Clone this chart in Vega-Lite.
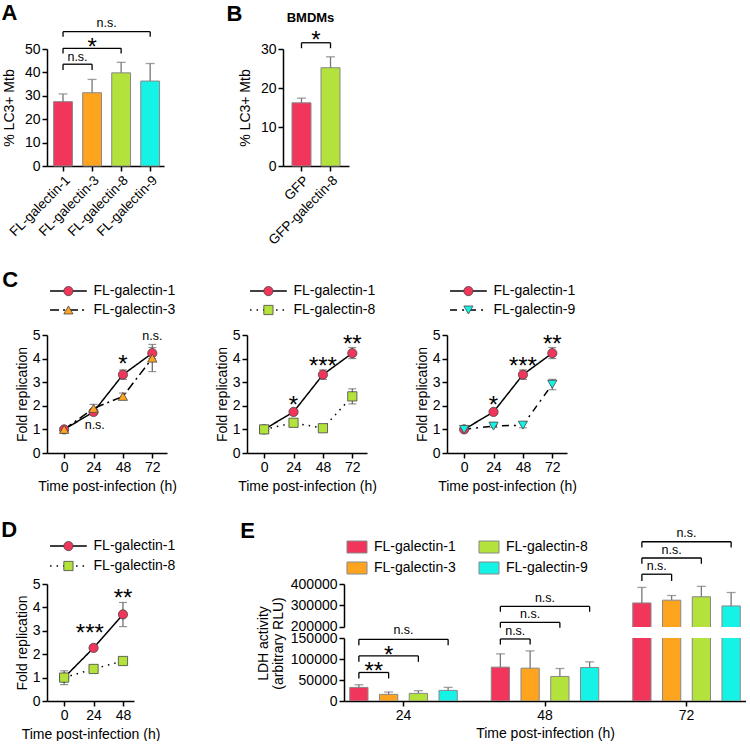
{
"$schema":"https://vega.github.io/schema/vega-lite/v6.json",
"padding":{"left":1,"top":2,"right":0,"bottom":0},
"config":{
"font":"Liberation Sans",
"view":{"stroke":null},
"axis":{"grid":false,"labelOverlap":false,"labelFlush":false,"domainColor":"#000","domainWidth":1.5,"tickColor":"#000","tickWidth":1.5,"tickSize":5,"labelFontSize":14,"labelColor":"#000","labelPadding":2,"titleFontSize":14,"titleFontWeight":"normal","titleColor":"#000","titlePadding":5,"labelFont":"Liberation Sans","titleFont":"Liberation Sans"},
"title":{"anchor":"start","frame":"bounds","fontSize":22,"fontWeight":"bold","offset":2,"color":"#000","font":"Liberation Sans"},
"text":{"font":"Liberation Sans","color":"#000"}
},
"datasets":{
"A":[{"g":"FL-galectin-1","v":27.5,"hi":30.8},{"g":"FL-galectin-3","v":31.3,"hi":37.0},{"g":"FL-galectin-8","v":39.8,"hi":44.3},{"g":"FL-galectin-9","v":36.3,"hi":43.8}],
"Abr":[{"id":"a","g":"FL-galectin-1","top":43.5,"bot":41.0},{"id":"a","g":"FL-galectin-3","top":43.5,"bot":41.0},{"id":"b","g":"FL-galectin-1","top":50.3,"bot":48.1},{"id":"b","g":"FL-galectin-8","top":50.3,"bot":48.1},{"id":"c","g":"FL-galectin-1","top":57.4,"bot":55.2},{"id":"c","g":"FL-galectin-9","top":57.4,"bot":55.2}],
"Atx":[{"label":"n.s.","g":"FL-galectin-1","pos":"mid","y":46.4},{"label":"*","g":"FL-galectin-3","pos":"bar","y":53.6},{"label":"n.s.","g":"FL-galectin-3","pos":"mid","y":61.0}],
"B":[{"g":"GFP","v":16.2,"hi":17.4},{"g":"GFP-galectin-8","v":25.2,"hi":28.0}],
"Bbr":[{"id":"a","g":"GFP","top":31.6,"bot":30.2},{"id":"a","g":"GFP-galectin-8","top":31.6,"bot":30.2}],
"Btx":[{"label":"*","g":"GFP","y":33.8}],
"Blab":[{"label":"BMDMs"}],
"S":[{"series":"FL-galectin-1"},{"series":"FL-galectin-3"},{"series":"FL-galectin-8"},{"series":"FL-galectin-9"}],
"C":[
{"series":"FL-galectin-1","t":0,"v":1.0,"lo":0.95,"hi":1.05},
{"series":"FL-galectin-1","t":24,"v":1.74,"lo":1.66,"hi":1.82},
{"series":"FL-galectin-1","t":48,"v":3.32,"lo":3.12,"hi":3.52},
{"series":"FL-galectin-1","t":72,"v":4.23,"lo":4.0,"hi":4.47},
{"series":"FL-galectin-3","t":0,"v":1.0,"lo":0.95,"hi":1.05},
{"series":"FL-galectin-3","t":24,"v":1.89,"lo":1.72,"hi":2.06},
{"series":"FL-galectin-3","t":48,"v":2.4,"lo":2.27,"hi":2.54},
{"series":"FL-galectin-3","t":72,"v":4.02,"lo":3.45,"hi":4.6},
{"series":"FL-galectin-8","t":0,"v":1.0,"lo":0.96,"hi":1.04},
{"series":"FL-galectin-8","t":24,"v":1.28,"lo":1.22,"hi":1.34},
{"series":"FL-galectin-8","t":48,"v":1.05,"lo":1.0,"hi":1.1},
{"series":"FL-galectin-8","t":72,"v":2.4,"lo":2.08,"hi":2.72},
{"series":"FL-galectin-9","t":0,"v":1.0,"lo":0.95,"hi":1.05},
{"series":"FL-galectin-9","t":24,"v":1.14,"lo":1.08,"hi":1.2},
{"series":"FL-galectin-9","t":48,"v":1.18,"lo":1.07,"hi":1.29},
{"series":"FL-galectin-9","t":72,"v":2.91,"lo":2.68,"hi":3.12}],
"Ctx":[
{"p":"C1","t":48,"y":4.02,"label":"*"},{"p":"C1","t":72,"y":4.97,"label":"n.s."},{"p":"C1","t":25,"y":1.18,"label":"n.s."},
{"p":"C2","t":24,"y":2.3,"label":"*"},{"p":"C2","t":48,"y":3.96,"label":"***"},{"p":"C2","t":72,"y":4.89,"label":"**"},
{"p":"C3","t":24,"y":2.3,"label":"*"},{"p":"C3","t":48,"y":3.96,"label":"***"},{"p":"C3","t":72,"y":4.89,"label":"**"},
{"p":"D","t":21,"y":3.16,"label":"***"},{"p":"D","t":48,"y":4.64,"label":"**"}],
"D":[
{"series":"FL-galectin-1","t":0,"v":1.0,"lo":0.7,"hi":1.29},
{"series":"FL-galectin-1","t":24,"v":2.27,"lo":2.22,"hi":2.32},
{"series":"FL-galectin-1","t":48,"v":3.7,"lo":3.18,"hi":4.21},
{"series":"FL-galectin-8","t":0,"v":1.0,"lo":0.95,"hi":1.05},
{"series":"FL-galectin-8","t":24,"v":1.37,"lo":1.32,"hi":1.42},
{"series":"FL-galectin-8","t":48,"v":1.71,"lo":1.66,"hi":1.76}],
"ldh":[
{"t":"24","series":"FL-galectin-1","v":32400,"hi":38700},
{"t":"24","series":"FL-galectin-3","v":15800,"hi":21300},
{"t":"24","series":"FL-galectin-8","v":18200,"hi":24500},
{"t":"24","series":"FL-galectin-9","v":25300,"hi":32400},
{"t":"48","series":"FL-galectin-1","v":80600,"hi":112200},
{"t":"48","series":"FL-galectin-3","v":78200,"hi":119300},
{"t":"48","series":"FL-galectin-8","v":58500,"hi":77400},
{"t":"48","series":"FL-galectin-9","v":79800,"hi":93200},
{"t":"72","series":"FL-galectin-1","v":311000,"hi":384000},
{"t":"72","series":"FL-galectin-3","v":324000,"hi":346000},
{"t":"72","series":"FL-galectin-8","v":340000,"hi":389000},
{"t":"72","series":"FL-galectin-9","v":297000,"hi":360000}],
"Ebl":[
{"id":"a","t":"24","series":"FL-galectin-1","top":67900,"bot":53700},
{"id":"a","t":"24","series":"FL-galectin-3","top":67900,"bot":53700},
{"id":"b","t":"24","series":"FL-galectin-1","top":107400,"bot":93200},
{"id":"b","t":"24","series":"FL-galectin-8","top":107400,"bot":93200},
{"id":"c","t":"24","series":"FL-galectin-1","top":146900,"bot":132700},
{"id":"c","t":"24","series":"FL-galectin-9","top":146900,"bot":132700},
{"id":"d","t":"48","series":"FL-galectin-1","top":147700,"bot":134300},
{"id":"d","t":"48","series":"FL-galectin-3","top":147700,"bot":134300},
{"id":"e","t":"48","series":"FL-galectin-1","top":187200,"bot":174600},
{"id":"e","t":"48","series":"FL-galectin-8","top":187200,"bot":174600},
{"id":"f","t":"48","series":"FL-galectin-1","top":225100,"bot":212500},
{"id":"f","t":"48","series":"FL-galectin-9","top":225100,"bot":212500}],
"Ebu":[
{"id":"g","t":"72","series":"FL-galectin-1","top":446000,"bot":414300},
{"id":"g","t":"72","series":"FL-galectin-3","top":446000,"bot":414300},
{"id":"h","t":"72","series":"FL-galectin-1","top":522200,"bot":495200},
{"id":"h","t":"72","series":"FL-galectin-8","top":522200,"bot":495200},
{"id":"i","t":"72","series":"FL-galectin-1","top":598400,"bot":571400},
{"id":"i","t":"72","series":"FL-galectin-9","top":598400,"bot":571400}],
"Etl":[
{"t":"24","series":"FL-galectin-1","label":"**","pos":"mid","y":85300},
{"t":"24","series":"FL-galectin-3","label":"*","pos":"bar","y":124800},
{"t":"24","label":"n.s.","pos":"group","y":168200},
{"t":"48","series":"FL-galectin-1","label":"n.s.","pos":"mid","y":166700},
{"t":"48","series":"FL-galectin-3","label":"n.s.","pos":"bar","y":206200},
{"t":"48","label":"n.s.","pos":"group","y":245700}],
"Etu":[
{"t":"72","series":"FL-galectin-1","label":"n.s.","pos":"mid","y":482500},
{"t":"72","series":"FL-galectin-3","label":"n.s.","pos":"bar","y":558700},
{"t":"72","label":"n.s.","pos":"group","y":638000}]
},
"vconcat":[
{"vconcat":[
{"hconcat":[
{"width":117,"height":117,
"title":{"text":"A","dx":-1,"dy":10},
"layer":[
{"data":{"name":"A"},"mark":{"type":"bar","stroke":"#888","strokeWidth":1},
"encoding":{"x":{"field":"g","type":"nominal","scale":{"domain":["FL-galectin-1","FL-galectin-3","FL-galectin-8","FL-galectin-9"],"paddingInner":0.353,"paddingOuter":0.19,"align":0.6},"axis":{"title":null,"labelAngle":-45,"labelFontSize":13.5}},
"y":{"field":"v","type":"quantitative","scale":{"domain":[0,50],"nice":false},"axis":{"values":[0,10,20,30,40,50],"tickCount":20,"format":"d","title":"% LC3+ Mtb","titlePadding":8}},
"color":{"field":"g","type":"nominal","scale":{"domain":["FL-galectin-1","FL-galectin-3","FL-galectin-8","FL-galectin-9"],"range":["#F2365B","#FFA41F","#B3E23C","#15F3E7"]},"legend":null}}},
{"data":{"name":"A"},"mark":{"type":"rule","color":"#777","strokeWidth":1.3},"encoding":{"x":{"field":"g","type":"nominal"},"y":{"field":"v","type":"quantitative"},"y2":{"field":"hi"}}},
{"data":{"name":"A"},"mark":{"type":"tick","color":"#777","size":9,"thickness":1.3},"encoding":{"x":{"field":"g","type":"nominal"},"y":{"field":"hi","type":"quantitative"}}},
{"data":{"name":"Abr"},"mark":{"type":"line","color":"#000","strokeWidth":1.3},"encoding":{"x":{"field":"g","type":"nominal"},"y":{"field":"top","type":"quantitative"},"detail":{"field":"id","type":"nominal"}}},
{"data":{"name":"Abr"},"mark":{"type":"rule","color":"#000","strokeWidth":1.3},"encoding":{"x":{"field":"g","type":"nominal"},"y":{"field":"top","type":"quantitative"},"y2":{"field":"bot"}}},
{"data":{"name":"Atx"},"transform":[{"filter":"datum.pos == 'mid'"}],"mark":{"type":"text","fontSize":12.5,"baseline":"middle","dx":14.5},"encoding":{"x":{"field":"g","type":"nominal"},"y":{"field":"y","type":"quantitative"},"text":{"field":"label","type":"nominal"}}},
{"data":{"name":"Atx"},"transform":[{"filter":"datum.pos == 'bar'"}],"mark":{"type":"text","fontSize":24,"baseline":"middle","dy":7},"encoding":{"x":{"field":"g","type":"nominal"},"y":{"field":"y","type":"quantitative"},"text":{"field":"label","type":"nominal"}}}
]},
{"width":66,"height":117,
"title":{"text":"B","dx":-12,"dy":16},
"layer":[
{"data":{"name":"B"},"mark":{"type":"bar","stroke":"#888","strokeWidth":1},
"encoding":{"x":{"field":"g","type":"nominal","scale":{"domain":["GFP","GFP-galectin-8"],"paddingInner":0.345,"paddingOuter":0.31},"axis":{"title":null,"labelAngle":-45,"labelFontSize":13.5}},
"y":{"field":"v","type":"quantitative","scale":{"domain":[0,30],"nice":false},"axis":{"values":[0,10,20,30],"tickCount":20,"format":"d","title":"% LC3+ Mtb","titlePadding":8}},
"color":{"field":"g","type":"nominal","scale":{"domain":["GFP","GFP-galectin-8"],"range":["#F2365B","#B3E23C"]},"legend":null}}},
{"data":{"name":"B"},"mark":{"type":"rule","color":"#777","strokeWidth":1.3},"encoding":{"x":{"field":"g","type":"nominal"},"y":{"field":"v","type":"quantitative"},"y2":{"field":"hi"}}},
{"data":{"name":"B"},"mark":{"type":"tick","color":"#777","size":9,"thickness":1.3},"encoding":{"x":{"field":"g","type":"nominal"},"y":{"field":"hi","type":"quantitative"}}},
{"data":{"name":"Bbr"},"mark":{"type":"line","color":"#000","strokeWidth":1.3},"encoding":{"x":{"field":"g","type":"nominal"},"y":{"field":"top","type":"quantitative"},"detail":{"field":"id","type":"nominal"}}},
{"data":{"name":"Bbr"},"mark":{"type":"rule","color":"#000","strokeWidth":1.3},"encoding":{"x":{"field":"g","type":"nominal"},"y":{"field":"top","type":"quantitative"},"y2":{"field":"bot"}}},
{"data":{"name":"Btx"},"mark":{"type":"text","fontSize":24,"baseline":"middle","dx":14.5,"dy":7},"encoding":{"x":{"field":"g","type":"nominal"},"y":{"field":"y","type":"quantitative"},"text":{"field":"label","type":"nominal"}}},
{"data":{"name":"Blab"},"mark":{"type":"text","fontSize":13,"fontWeight":"bold","baseline":"middle","dx":9},"encoding":{"x":{"datum":"GFP"},"y":{"datum":38},"text":{"field":"label","type":"nominal"}}}
]}
],"spacing":119,"bounds":"flush","resolve":{"scale":{"color":"independent","shape":"independent","strokeDash":"independent"}}},
{"hconcat":[
{"width":120,"height":118,
"title":{"text":"C","dx":-13,"dy":10},
"layer":[
{"data":{"name":"C"},"transform":[{"filter":{"field":"series","oneOf":["FL-galectin-1","FL-galectin-3"]}}],"mark":{"type":"line","color":"#000","strokeWidth":1.5},
"encoding":{"x":{"field":"t","type":"quantitative","scale":{"domain":[-14,84],"nice":false},"axis":{"values":[0,24,48,72],"tickCount":20,"format":"d","title":"Time post-infection (h)"}},
"y":{"field":"v","type":"quantitative","scale":{"domain":[0,5],"nice":false},"axis":{"values":[0,1,2,3,4,5],"tickCount":20,"format":"d","title":"Fold replication","titlePadding":3}},
"strokeDash":{"field":"series","type":"nominal","scale":{"domain":["FL-galectin-1","FL-galectin-3","FL-galectin-8","FL-galectin-9"],"range":[[1,0],[9,4,2,4],[1.5,5],[7,5,2,5]]},"legend":null}}},
{"data":{"name":"C"},"transform":[{"filter":{"field":"series","oneOf":["FL-galectin-1","FL-galectin-3"]}}],"mark":{"type":"rule","color":"#666","strokeWidth":1.2},"encoding":{"x":{"field":"t","type":"quantitative"},"y":{"field":"lo","type":"quantitative"},"y2":{"field":"hi"}}},
{"data":{"name":"C"},"transform":[{"filter":{"field":"series","oneOf":["FL-galectin-1","FL-galectin-3"]}}],"mark":{"type":"tick","orient":"horizontal","color":"#666","size":8,"thickness":1.2},"encoding":{"x":{"field":"t","type":"quantitative"},"y":{"field":"lo","type":"quantitative"}}},
{"data":{"name":"C"},"transform":[{"filter":{"field":"series","oneOf":["FL-galectin-1","FL-galectin-3"]}}],"mark":{"type":"tick","orient":"horizontal","color":"#666","size":8,"thickness":1.2},"encoding":{"x":{"field":"t","type":"quantitative"},"y":{"field":"hi","type":"quantitative"}}},
{"data":{"name":"C"},"transform":[{"filter":{"field":"series","oneOf":["FL-galectin-1","FL-galectin-3"]}}],"mark":{"type":"point","filled":true,"opacity":1,"stroke":"#444","strokeWidth":0.8,"size":85},
"encoding":{"x":{"field":"t","type":"quantitative"},"y":{"field":"v","type":"quantitative"},
"color":{"field":"series","type":"nominal","scale":{"domain":["FL-galectin-1","FL-galectin-3","FL-galectin-8","FL-galectin-9"],"range":["#F2365B","#FFA41F","#B3E23C","#15F3E7"]},"legend":null},
"shape":{"field":"series","type":"nominal","scale":{"domain":["FL-galectin-1","FL-galectin-3","FL-galectin-8","FL-galectin-9"],"range":["circle","triangle-up","square","triangle-down"]},"legend":null}}},
{"data":{"name":"Ctx"},"transform":[{"filter":"datum.p == 'C1' && datum.label == 'n.s.'"}],"mark":{"type":"text","fontSize":12.5,"baseline":"middle"},"encoding":{"x":{"field":"t","type":"quantitative"},"y":{"field":"y","type":"quantitative"},"text":{"field":"label","type":"nominal"}}},
{"data":{"name":"Ctx"},"transform":[{"filter":"datum.p == 'C1' && datum.label != 'n.s.'"}],"mark":{"type":"text","fontSize":24,"baseline":"middle","dy":7},"encoding":{"x":{"field":"t","type":"quantitative"},"y":{"field":"y","type":"quantitative"},"text":{"field":"label","type":"nominal"}}},
{"data":{"name":"S"},"transform":[{"filter":"datum.series == 'FL-galectin-1'"}],"mark":{"type":"rule","color":"#000","strokeWidth":1.5},"encoding":{"x":{"datum":-11.5},"x2":{"datum":18.5},"y":{"datum":6.86},"strokeDash":{"field":"series","type":"nominal"}}},
{"data":{"name":"S"},"transform":[{"filter":"datum.series == 'FL-galectin-1'"}],"mark":{"type":"point","filled":true,"opacity":1,"stroke":"#444","strokeWidth":0.8,"size":85},"encoding":{"x":{"datum":3.5},"y":{"datum":6.86},"color":{"field":"series","type":"nominal"},"shape":{"field":"series","type":"nominal"}}},
{"data":{"name":"S"},"transform":[{"filter":"datum.series == 'FL-galectin-1'"}],"mark":{"type":"text","fontSize":14,"align":"left","baseline":"middle"},"encoding":{"x":{"datum":24},"y":{"datum":6.86},"text":{"field":"series","type":"nominal"}}},
{"data":{"name":"S"},"transform":[{"filter":"datum.series == 'FL-galectin-3'"}],"mark":{"type":"rule","color":"#000","strokeWidth":1.5},"encoding":{"x":{"datum":-11.5},"x2":{"datum":18.5},"y":{"datum":6.06},"strokeDash":{"field":"series","type":"nominal"}}},
{"data":{"name":"S"},"transform":[{"filter":"datum.series == 'FL-galectin-3'"}],"mark":{"type":"point","filled":true,"opacity":1,"stroke":"#444","strokeWidth":0.8,"size":85},"encoding":{"x":{"datum":3.5},"y":{"datum":6.06},"color":{"field":"series","type":"nominal"},"shape":{"field":"series","type":"nominal"}}},
{"data":{"name":"S"},"transform":[{"filter":"datum.series == 'FL-galectin-3'"}],"mark":{"type":"text","fontSize":14,"align":"left","baseline":"middle"},"encoding":{"x":{"datum":24},"y":{"datum":6.06},"text":{"field":"series","type":"nominal"}}}
]},
{"width":120,"height":118,
"layer":[
{"data":{"name":"C"},"transform":[{"filter":{"field":"series","oneOf":["FL-galectin-1","FL-galectin-8"]}}],"mark":{"type":"line","color":"#000","strokeWidth":1.5},
"encoding":{"x":{"field":"t","type":"quantitative","scale":{"domain":[-14,84],"nice":false},"axis":{"values":[0,24,48,72],"tickCount":20,"format":"d","title":"Time post-infection (h)"}},
"y":{"field":"v","type":"quantitative","scale":{"domain":[0,5],"nice":false},"axis":{"values":[0,1,2,3,4,5],"tickCount":20,"format":"d","title":"Fold replication","titlePadding":3}},
"strokeDash":{"field":"series","type":"nominal","scale":{"domain":["FL-galectin-1","FL-galectin-3","FL-galectin-8","FL-galectin-9"],"range":[[1,0],[9,4,2,4],[1.5,5],[7,5,2,5]]},"legend":null}}},
{"data":{"name":"C"},"transform":[{"filter":{"field":"series","oneOf":["FL-galectin-1","FL-galectin-8"]}}],"mark":{"type":"rule","color":"#666","strokeWidth":1.2},"encoding":{"x":{"field":"t","type":"quantitative"},"y":{"field":"lo","type":"quantitative"},"y2":{"field":"hi"}}},
{"data":{"name":"C"},"transform":[{"filter":{"field":"series","oneOf":["FL-galectin-1","FL-galectin-8"]}}],"mark":{"type":"tick","orient":"horizontal","color":"#666","size":8,"thickness":1.2},"encoding":{"x":{"field":"t","type":"quantitative"},"y":{"field":"lo","type":"quantitative"}}},
{"data":{"name":"C"},"transform":[{"filter":{"field":"series","oneOf":["FL-galectin-1","FL-galectin-8"]}}],"mark":{"type":"tick","orient":"horizontal","color":"#666","size":8,"thickness":1.2},"encoding":{"x":{"field":"t","type":"quantitative"},"y":{"field":"hi","type":"quantitative"}}},
{"data":{"name":"C"},"transform":[{"filter":{"field":"series","oneOf":["FL-galectin-1","FL-galectin-8"]}}],"mark":{"type":"point","filled":true,"opacity":1,"stroke":"#444","strokeWidth":0.8,"size":85},
"encoding":{"x":{"field":"t","type":"quantitative"},"y":{"field":"v","type":"quantitative"},
"color":{"field":"series","type":"nominal","scale":{"domain":["FL-galectin-1","FL-galectin-3","FL-galectin-8","FL-galectin-9"],"range":["#F2365B","#FFA41F","#B3E23C","#15F3E7"]},"legend":null},
"shape":{"field":"series","type":"nominal","scale":{"domain":["FL-galectin-1","FL-galectin-3","FL-galectin-8","FL-galectin-9"],"range":["circle","triangle-up","square","triangle-down"]},"legend":null}}},
{"data":{"name":"Ctx"},"transform":[{"filter":"datum.p == 'C2' && datum.label != 'n.s.'"}],"mark":{"type":"text","fontSize":24,"baseline":"middle","dy":7},"encoding":{"x":{"field":"t","type":"quantitative"},"y":{"field":"y","type":"quantitative"},"text":{"field":"label","type":"nominal"}}},
{"data":{"name":"S"},"transform":[{"filter":"datum.series == 'FL-galectin-1'"}],"mark":{"type":"rule","color":"#000","strokeWidth":1.5},"encoding":{"x":{"datum":-11.5},"x2":{"datum":18.5},"y":{"datum":6.86},"strokeDash":{"field":"series","type":"nominal"}}},
{"data":{"name":"S"},"transform":[{"filter":"datum.series == 'FL-galectin-1'"}],"mark":{"type":"point","filled":true,"opacity":1,"stroke":"#444","strokeWidth":0.8,"size":85},"encoding":{"x":{"datum":3.5},"y":{"datum":6.86},"color":{"field":"series","type":"nominal"},"shape":{"field":"series","type":"nominal"}}},
{"data":{"name":"S"},"transform":[{"filter":"datum.series == 'FL-galectin-1'"}],"mark":{"type":"text","fontSize":14,"align":"left","baseline":"middle"},"encoding":{"x":{"datum":24},"y":{"datum":6.86},"text":{"field":"series","type":"nominal"}}},
{"data":{"name":"S"},"transform":[{"filter":"datum.series == 'FL-galectin-8'"}],"mark":{"type":"rule","color":"#000","strokeWidth":1.5},"encoding":{"x":{"datum":-11.5},"x2":{"datum":18.5},"y":{"datum":6.06},"strokeDash":{"field":"series","type":"nominal"}}},
{"data":{"name":"S"},"transform":[{"filter":"datum.series == 'FL-galectin-8'"}],"mark":{"type":"point","filled":true,"opacity":1,"stroke":"#444","strokeWidth":0.8,"size":85},"encoding":{"x":{"datum":3.5},"y":{"datum":6.06},"color":{"field":"series","type":"nominal"},"shape":{"field":"series","type":"nominal"}}},
{"data":{"name":"S"},"transform":[{"filter":"datum.series == 'FL-galectin-8'"}],"mark":{"type":"text","fontSize":14,"align":"left","baseline":"middle"},"encoding":{"x":{"datum":24},"y":{"datum":6.06},"text":{"field":"series","type":"nominal"}}}
]},
{"width":120,"height":118,
"layer":[
{"data":{"name":"C"},"transform":[{"filter":{"field":"series","oneOf":["FL-galectin-1","FL-galectin-9"]}}],"mark":{"type":"line","color":"#000","strokeWidth":1.5},
"encoding":{"x":{"field":"t","type":"quantitative","scale":{"domain":[-14,84],"nice":false},"axis":{"values":[0,24,48,72],"tickCount":20,"format":"d","title":"Time post-infection (h)"}},
"y":{"field":"v","type":"quantitative","scale":{"domain":[0,5],"nice":false},"axis":{"values":[0,1,2,3,4,5],"tickCount":20,"format":"d","title":"Fold replication","titlePadding":3}},
"strokeDash":{"field":"series","type":"nominal","scale":{"domain":["FL-galectin-1","FL-galectin-3","FL-galectin-8","FL-galectin-9"],"range":[[1,0],[9,4,2,4],[1.5,5],[7,5,2,5]]},"legend":null}}},
{"data":{"name":"C"},"transform":[{"filter":{"field":"series","oneOf":["FL-galectin-1","FL-galectin-9"]}}],"mark":{"type":"rule","color":"#666","strokeWidth":1.2},"encoding":{"x":{"field":"t","type":"quantitative"},"y":{"field":"lo","type":"quantitative"},"y2":{"field":"hi"}}},
{"data":{"name":"C"},"transform":[{"filter":{"field":"series","oneOf":["FL-galectin-1","FL-galectin-9"]}}],"mark":{"type":"tick","orient":"horizontal","color":"#666","size":8,"thickness":1.2},"encoding":{"x":{"field":"t","type":"quantitative"},"y":{"field":"lo","type":"quantitative"}}},
{"data":{"name":"C"},"transform":[{"filter":{"field":"series","oneOf":["FL-galectin-1","FL-galectin-9"]}}],"mark":{"type":"tick","orient":"horizontal","color":"#666","size":8,"thickness":1.2},"encoding":{"x":{"field":"t","type":"quantitative"},"y":{"field":"hi","type":"quantitative"}}},
{"data":{"name":"C"},"transform":[{"filter":{"field":"series","oneOf":["FL-galectin-1","FL-galectin-9"]}}],"mark":{"type":"point","filled":true,"opacity":1,"stroke":"#444","strokeWidth":0.8,"size":85},
"encoding":{"x":{"field":"t","type":"quantitative"},"y":{"field":"v","type":"quantitative"},
"color":{"field":"series","type":"nominal","scale":{"domain":["FL-galectin-1","FL-galectin-3","FL-galectin-8","FL-galectin-9"],"range":["#F2365B","#FFA41F","#B3E23C","#15F3E7"]},"legend":null},
"shape":{"field":"series","type":"nominal","scale":{"domain":["FL-galectin-1","FL-galectin-3","FL-galectin-8","FL-galectin-9"],"range":["circle","triangle-up","square","triangle-down"]},"legend":null}}},
{"data":{"name":"Ctx"},"transform":[{"filter":"datum.p == 'C3' && datum.label != 'n.s.'"}],"mark":{"type":"text","fontSize":24,"baseline":"middle","dy":7},"encoding":{"x":{"field":"t","type":"quantitative"},"y":{"field":"y","type":"quantitative"},"text":{"field":"label","type":"nominal"}}},
{"data":{"name":"S"},"transform":[{"filter":"datum.series == 'FL-galectin-1'"}],"mark":{"type":"rule","color":"#000","strokeWidth":1.5},"encoding":{"x":{"datum":-11.5},"x2":{"datum":18.5},"y":{"datum":6.86},"strokeDash":{"field":"series","type":"nominal"}}},
{"data":{"name":"S"},"transform":[{"filter":"datum.series == 'FL-galectin-1'"}],"mark":{"type":"point","filled":true,"opacity":1,"stroke":"#444","strokeWidth":0.8,"size":85},"encoding":{"x":{"datum":3.5},"y":{"datum":6.86},"color":{"field":"series","type":"nominal"},"shape":{"field":"series","type":"nominal"}}},
{"data":{"name":"S"},"transform":[{"filter":"datum.series == 'FL-galectin-1'"}],"mark":{"type":"text","fontSize":14,"align":"left","baseline":"middle"},"encoding":{"x":{"datum":24},"y":{"datum":6.86},"text":{"field":"series","type":"nominal"}}},
{"data":{"name":"S"},"transform":[{"filter":"datum.series == 'FL-galectin-9'"}],"mark":{"type":"rule","color":"#000","strokeWidth":1.5},"encoding":{"x":{"datum":-11.5},"x2":{"datum":18.5},"y":{"datum":6.06},"strokeDash":{"field":"series","type":"nominal"}}},
{"data":{"name":"S"},"transform":[{"filter":"datum.series == 'FL-galectin-9'"}],"mark":{"type":"point","filled":true,"opacity":1,"stroke":"#444","strokeWidth":0.8,"size":85},"encoding":{"x":{"datum":3.5},"y":{"datum":6.06},"color":{"field":"series","type":"nominal"},"shape":{"field":"series","type":"nominal"}}},
{"data":{"name":"S"},"transform":[{"filter":"datum.series == 'FL-galectin-9'"}],"mark":{"type":"text","fontSize":14,"align":"left","baseline":"middle"},"encoding":{"x":{"datum":24},"y":{"datum":6.06},"text":{"field":"series","type":"nominal"}}}
]}
],"spacing":80,"bounds":"flush","resolve":{"scale":{"color":"independent","shape":"independent","strokeDash":"independent"}}}
],"spacing":22,"resolve":{"scale":{"color":"independent","shape":"independent","strokeDash":"independent"}}},
{"hconcat":[
{"width":87,"height":117,
"title":{"text":"D","dx":-14,"dy":5},
"layer":[
{"data":{"name":"D"},"mark":{"type":"line","color":"#000","strokeWidth":1.5},
"encoding":{"x":{"field":"t","type":"quantitative","scale":{"domain":[-14,57],"nice":false},"axis":{"values":[0,24,48],"tickCount":20,"format":"d","title":"Time post-infection (h)"}},
"y":{"field":"v","type":"quantitative","scale":{"domain":[0,5],"nice":false},"axis":{"values":[0,1,2,3,4,5],"tickCount":20,"format":"d","title":"Fold replication","titlePadding":3}},
"strokeDash":{"field":"series","type":"nominal","scale":{"domain":["FL-galectin-1","FL-galectin-3","FL-galectin-8","FL-galectin-9"],"range":[[1,0],[9,4,2,4],[1.5,5],[7,5,2,5]]},"legend":null}}},
{"data":{"name":"D"},"mark":{"type":"rule","color":"#666","strokeWidth":1.2},"encoding":{"x":{"field":"t","type":"quantitative"},"y":{"field":"lo","type":"quantitative"},"y2":{"field":"hi"}}},
{"data":{"name":"D"},"mark":{"type":"tick","orient":"horizontal","color":"#666","size":8,"thickness":1.2},"encoding":{"x":{"field":"t","type":"quantitative"},"y":{"field":"lo","type":"quantitative"}}},
{"data":{"name":"D"},"mark":{"type":"tick","orient":"horizontal","color":"#666","size":8,"thickness":1.2},"encoding":{"x":{"field":"t","type":"quantitative"},"y":{"field":"hi","type":"quantitative"}}},
{"data":{"name":"D"},"mark":{"type":"point","filled":true,"opacity":1,"stroke":"#444","strokeWidth":0.8,"size":85},
"encoding":{"x":{"field":"t","type":"quantitative"},"y":{"field":"v","type":"quantitative"},
"color":{"field":"series","type":"nominal","scale":{"domain":["FL-galectin-1","FL-galectin-3","FL-galectin-8","FL-galectin-9"],"range":["#F2365B","#FFA41F","#B3E23C","#15F3E7"]},"legend":null},
"shape":{"field":"series","type":"nominal","scale":{"domain":["FL-galectin-1","FL-galectin-3","FL-galectin-8","FL-galectin-9"],"range":["circle","triangle-up","square","triangle-down"]},"legend":null}}},
{"data":{"name":"Ctx"},"transform":[{"filter":"datum.p == 'D'"}],"mark":{"type":"text","fontSize":24,"baseline":"middle","dy":7},"encoding":{"x":{"field":"t","type":"quantitative"},"y":{"field":"y","type":"quantitative"},"text":{"field":"label","type":"nominal"}}},
{"data":{"name":"S"},"transform":[{"filter":"datum.series == 'FL-galectin-1'"}],"mark":{"type":"rule","color":"#000","strokeWidth":1.5},"encoding":{"x":{"datum":-11.5},"x2":{"datum":18.5},"y":{"datum":6.62},"strokeDash":{"field":"series","type":"nominal"}}},
{"data":{"name":"S"},"transform":[{"filter":"datum.series == 'FL-galectin-1'"}],"mark":{"type":"point","filled":true,"opacity":1,"stroke":"#444","strokeWidth":0.8,"size":85},"encoding":{"x":{"datum":3.5},"y":{"datum":6.62},"color":{"field":"series","type":"nominal"},"shape":{"field":"series","type":"nominal"}}},
{"data":{"name":"S"},"transform":[{"filter":"datum.series == 'FL-galectin-1'"}],"mark":{"type":"text","fontSize":14,"align":"left","baseline":"middle"},"encoding":{"x":{"datum":24},"y":{"datum":6.62},"text":{"field":"series","type":"nominal"}}},
{"data":{"name":"S"},"transform":[{"filter":"datum.series == 'FL-galectin-8'"}],"mark":{"type":"rule","color":"#000","strokeWidth":1.5},"encoding":{"x":{"datum":-11.5},"x2":{"datum":18.5},"y":{"datum":5.77},"strokeDash":{"field":"series","type":"nominal"}}},
{"data":{"name":"S"},"transform":[{"filter":"datum.series == 'FL-galectin-8'"}],"mark":{"type":"point","filled":true,"opacity":1,"stroke":"#444","strokeWidth":0.8,"size":85},"encoding":{"x":{"datum":3.5},"y":{"datum":5.77},"color":{"field":"series","type":"nominal"},"shape":{"field":"series","type":"nominal"}}},
{"data":{"name":"S"},"transform":[{"filter":"datum.series == 'FL-galectin-8'"}],"mark":{"type":"text","fontSize":14,"align":"left","baseline":"middle"},"encoding":{"x":{"datum":24},"y":{"datum":5.77},"text":{"field":"series","type":"nominal"}}}
]},
{"vconcat":[
{"width":402,"height":43,
"title":{"text":"E","dx":-50,"dy":18},
"layer":[
{"data":{"name":"ldh"},"mark":{"type":"bar","stroke":"#888","strokeWidth":1,"clip":true},
"encoding":{"x":{"field":"t","type":"nominal","scale":{"domain":["24","48","72"],"paddingInner":0.159,"paddingOuter":0},"axis":null},
"xOffset":{"field":"series","type":"nominal","scale":{"domain":["FL-galectin-1","FL-galectin-3","FL-galectin-8","FL-galectin-9"],"paddingInner":0.386,"paddingOuter":0.193}},
"y":{"field":"v","type":"quantitative","scale":{"domain":[198000,400000],"nice":false,"zero":false},"axis":{"values":[200000,300000,400000],"tickCount":20,"format":"d","title":null}},
"color":{"field":"series","type":"nominal","scale":{"domain":["FL-galectin-1","FL-galectin-3","FL-galectin-8","FL-galectin-9"],"range":["#F2365B","#FFA41F","#B3E23C","#15F3E7"]},
"legend":{"orient":"none","legendX":6,"legendY":-44,"title":null,"columns":2,"columnPadding":20,"rowPadding":5,"labelOffset":10,"labelFontSize":14,"labelColor":"#000","labelFont":"Liberation Sans","symbolType":"M-1.667,-1H1.667V1H-1.667Z","symbolSize":144,"symbolStrokeColor":"#888","symbolStrokeWidth":1,"symbolOpacity":1,"padding":0}}}},
{"data":{"name":"ldh"},"mark":{"type":"rule","color":"#777","strokeWidth":1.3,"clip":true},"encoding":{"x":{"field":"t","type":"nominal"},"xOffset":{"field":"series","type":"nominal"},"y":{"field":"v","type":"quantitative"},"y2":{"field":"hi"}}},
{"data":{"name":"ldh"},"mark":{"type":"tick","color":"#777","size":9,"thickness":1.3,"clip":true},"encoding":{"x":{"field":"t","type":"nominal"},"xOffset":{"field":"series","type":"nominal"},"y":{"field":"hi","type":"quantitative"}}},
{"data":{"name":"Ebu"},"mark":{"type":"line","color":"#000","strokeWidth":1.3},"encoding":{"x":{"field":"t","type":"nominal"},"xOffset":{"field":"series","type":"nominal"},"y":{"field":"top","type":"quantitative"},"detail":{"field":"id","type":"nominal"}}},
{"data":{"name":"Ebu"},"mark":{"type":"rule","color":"#000","strokeWidth":1.3},"encoding":{"x":{"field":"t","type":"nominal"},"xOffset":{"field":"series","type":"nominal"},"y":{"field":"top","type":"quantitative"},"y2":{"field":"bot"}}},
{"data":{"name":"Etu"},"transform":[{"filter":"datum.pos == 'group'"}],"mark":{"type":"text","fontSize":12.5,"baseline":"middle"},"encoding":{"x":{"field":"t","type":"nominal"},"y":{"field":"y","type":"quantitative"},"text":{"field":"label","type":"nominal"}}},
{"data":{"name":"Etu"},"transform":[{"filter":"datum.pos == 'bar'"}],"mark":{"type":"text","fontSize":12.5,"baseline":"middle"},"encoding":{"x":{"field":"t","type":"nominal"},"xOffset":{"field":"series","type":"nominal"},"y":{"field":"y","type":"quantitative"},"text":{"field":"label","type":"nominal"}}},
{"data":{"name":"Etu"},"transform":[{"filter":"datum.pos == 'mid'"}],"mark":{"type":"text","fontSize":12.5,"baseline":"middle","dx":14.9},"encoding":{"x":{"field":"t","type":"nominal"},"xOffset":{"field":"series","type":"nominal"},"y":{"field":"y","type":"quantitative"},"text":{"field":"label","type":"nominal"}}}
]},
{"width":402,"height":63,
"layer":[
{"data":{"name":"ldh"},"mark":{"type":"bar","stroke":"#888","strokeWidth":1,"clip":true},
"encoding":{"x":{"field":"t","type":"nominal","scale":{"domain":["24","48","72"],"paddingInner":0.159,"paddingOuter":0},"axis":{"title":"Time post-infection (h)","labelAngle":0,"titlePadding":4}},
"xOffset":{"field":"series","type":"nominal","scale":{"domain":["FL-galectin-1","FL-galectin-3","FL-galectin-8","FL-galectin-9"],"paddingInner":0.386,"paddingOuter":0.193}},
"y":{"field":"v","type":"quantitative","scale":{"domain":[0,150000],"nice":false},"axis":{"values":[0,50000,100000,150000],"tickCount":20,"format":"d","title":["LDH activity","(arbitrary RLU)"],"titleY":5,"titleLineHeight":15}},
"color":{"field":"series","type":"nominal","scale":{"domain":["FL-galectin-1","FL-galectin-3","FL-galectin-8","FL-galectin-9"],"range":["#F2365B","#FFA41F","#B3E23C","#15F3E7"]},"legend":null}}},
{"data":{"name":"ldh"},"mark":{"type":"rule","color":"#777","strokeWidth":1.3,"clip":true},"encoding":{"x":{"field":"t","type":"nominal"},"xOffset":{"field":"series","type":"nominal"},"y":{"field":"v","type":"quantitative"},"y2":{"field":"hi"}}},
{"data":{"name":"ldh"},"mark":{"type":"tick","color":"#777","size":9,"thickness":1.3,"clip":true},"encoding":{"x":{"field":"t","type":"nominal"},"xOffset":{"field":"series","type":"nominal"},"y":{"field":"hi","type":"quantitative"}}},
{"data":{"name":"Ebl"},"mark":{"type":"line","color":"#000","strokeWidth":1.3},"encoding":{"x":{"field":"t","type":"nominal"},"xOffset":{"field":"series","type":"nominal"},"y":{"field":"top","type":"quantitative"},"detail":{"field":"id","type":"nominal"}}},
{"data":{"name":"Ebl"},"mark":{"type":"rule","color":"#000","strokeWidth":1.3},"encoding":{"x":{"field":"t","type":"nominal"},"xOffset":{"field":"series","type":"nominal"},"y":{"field":"top","type":"quantitative"},"y2":{"field":"bot"}}},
{"data":{"name":"Etl"},"transform":[{"filter":"datum.pos == 'group'"}],"mark":{"type":"text","fontSize":12.5,"baseline":"middle"},"encoding":{"x":{"field":"t","type":"nominal"},"y":{"field":"y","type":"quantitative"},"text":{"field":"label","type":"nominal"}}},
{"data":{"name":"Etl"},"transform":[{"filter":"datum.pos == 'bar' && datum.label == 'n.s.'"}],"mark":{"type":"text","fontSize":12.5,"baseline":"middle"},"encoding":{"x":{"field":"t","type":"nominal"},"xOffset":{"field":"series","type":"nominal"},"y":{"field":"y","type":"quantitative"},"text":{"field":"label","type":"nominal"}}},
{"data":{"name":"Etl"},"transform":[{"filter":"datum.pos == 'mid' && datum.label == 'n.s.'"}],"mark":{"type":"text","fontSize":12.5,"baseline":"middle","dx":14.9},"encoding":{"x":{"field":"t","type":"nominal"},"xOffset":{"field":"series","type":"nominal"},"y":{"field":"y","type":"quantitative"},"text":{"field":"label","type":"nominal"}}},
{"data":{"name":"Etl"},"transform":[{"filter":"datum.pos == 'bar' && datum.label != 'n.s.'"}],"mark":{"type":"text","fontSize":24,"baseline":"middle","dy":7},"encoding":{"x":{"field":"t","type":"nominal"},"xOffset":{"field":"series","type":"nominal"},"y":{"field":"y","type":"quantitative"},"text":{"field":"label","type":"nominal"}}},
{"data":{"name":"Etl"},"transform":[{"filter":"datum.pos == 'mid' && datum.label != 'n.s.'"}],"mark":{"type":"text","fontSize":24,"baseline":"middle","dx":14.9,"dy":7},"encoding":{"x":{"field":"t","type":"nominal"},"xOffset":{"field":"series","type":"nominal"},"y":{"field":"y","type":"quantitative"},"text":{"field":"label","type":"nominal"}}}
]}
],"spacing":11,"bounds":"flush","resolve":{"scale":{"color":"independent"}}}
],"spacing":210,"bounds":"flush","resolve":{"scale":{"color":"independent","shape":"independent","strokeDash":"independent"}}}
],
"spacing":26,
"resolve":{"scale":{"color":"independent","shape":"independent","strokeDash":"independent"}}
}
